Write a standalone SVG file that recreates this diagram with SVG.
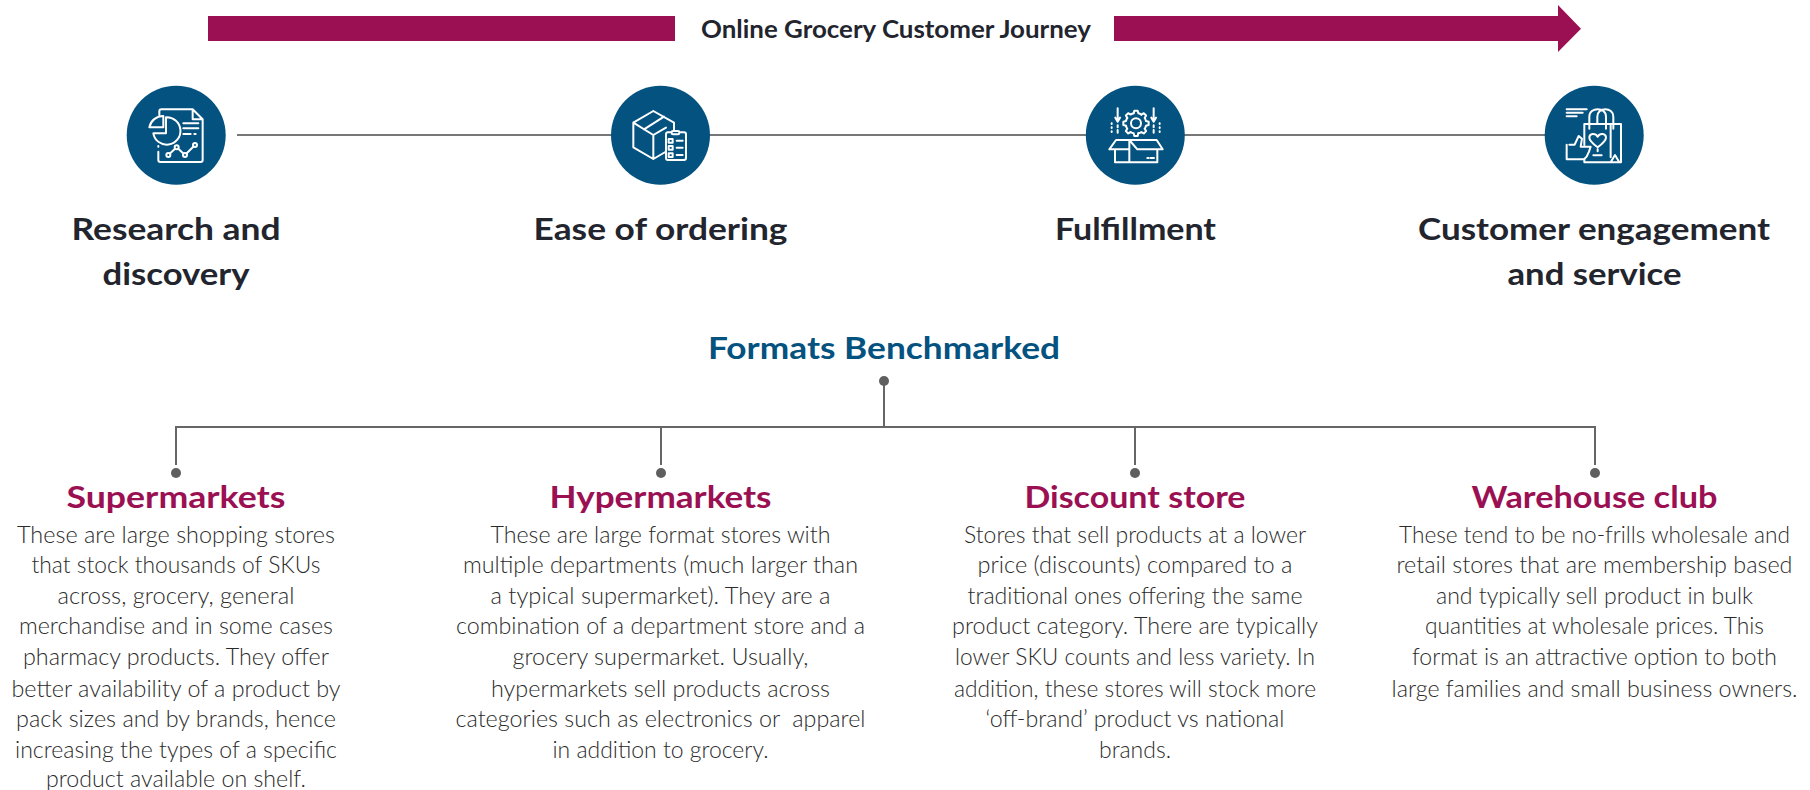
<svg xmlns="http://www.w3.org/2000/svg" xmlns:xlink="http://www.w3.org/1999/xlink" width="1810" height="790" viewBox="0 0 1810 790">
<style>
text{font-family:"Lato","Noto Sans",sans-serif;text-anchor:middle}
.h{font-size:31px;font-weight:700;fill:#22252e}
.b{font-size:23px;font-weight:300;fill:#2b2b2b;white-space:pre}
.c{font-size:31px;font-weight:700;fill:#9a1052}
.l{stroke:#666;stroke-width:2;fill:none}
.i{stroke:#fff;stroke-width:6;fill:none;stroke-linejoin:round;stroke-linecap:round}
.n{fill:#04527f}
.d{fill:#5f5f5f}
</style>
<defs>
<path id="tooth" d="M-7 -30L-5 -38H5L7 -30A31 31 0 0 1 16.3 -26.2"/>
</defs>
<rect width="1810" height="790" fill="#fff"/>
<g id="journey-arrow">
<rect x="208" y="16" width="467" height="25" fill="#9a1052"/>
<path d="M1114 16H1558V5L1581 28.7L1558 52V41H1114Z" fill="#9a1052"/>
<text x="896" y="38" textLength="390" lengthAdjust="spacingAndGlyphs" style="font-size:24px;font-weight:700;fill:#22252e">Online Grocery Customer Journey</text>
</g>
<g id="connectors">
<path d="M237 135H1546" stroke="#777" stroke-width="2.2" fill="none"/>
<path class="l" d="M884 381V427M176 465V427H1595V465M661 427V465M1135 427V465"/>
<circle class="d" cx="884" cy="381" r="5"/>
<circle class="d" cx="176" cy="473" r="5"/>
<circle class="d" cx="661" cy="473" r="5"/>
<circle class="d" cx="1135" cy="473" r="5"/>
<circle class="d" cx="1595" cy="473" r="5"/>
</g>
<g id="step-research">
<circle class="n" cx="176.2" cy="135.3" r="49.5"/>
<g class="i" transform="translate(100 70) scale(.3333)">
<path d="M178 135V124Q178 118 184 118H278L308 148V270Q308 276 302 276H181Q175 276 175 270V245M278 118V148H308"/>
<path d="M175 228V230"/>
<path d="M198 142A41 41 0 1 1 160 190H198Z"/>
<path d="M190 138V172H148A42 42 0 0 1 190 138Z"/>
<path d="M250 160H295M250 175H295M250 192H272M283 192H287"/>
<path d="M205 255L230 232L255 255L285 225"/>
<circle cx="205" cy="255" r="6" fill="#04527f"/><circle cx="230" cy="232" r="6" fill="#04527f"/><circle cx="255" cy="255" r="6" fill="#04527f"/><circle cx="285" cy="225" r="6" fill="#04527f"/>
</g>
</g>
<g id="step-ordering">
<circle class="n" cx="660.5" cy="135.3" r="49.5"/>
<g class="i" transform="translate(590 70) scale(.3333)">
<path d="M190 123L252 158V186M190 123L130 158V232L190 267L226 246M130 158L190 195V267M190 195L228 173M162 178L222 140"/>
<rect x="228" y="187" width="60" height="83" rx="6"/>
<rect x="245" y="183" width="23" height="10" rx="4" fill="#04527f"/>
<path d="M236 207H248V218H236ZM236 228H248V239H236ZM236 250H248V261H236ZM260 212H278M260 233H278M260 255H278"/>
</g>
</g>
<g id="step-fulfillment">
<circle class="n" cx="1135.3" cy="135.3" r="49.5"/>
<g class="i" transform="translate(1060 70) scale(.3333)">
<g transform="translate(228 160)">
<circle r="15"/>
<use xlink:href="#tooth"/><use xlink:href="#tooth" transform="rotate(45)"/><use xlink:href="#tooth" transform="rotate(90)"/><use xlink:href="#tooth" transform="rotate(135)"/><use xlink:href="#tooth" transform="rotate(180)"/><use xlink:href="#tooth" transform="rotate(225)"/><use xlink:href="#tooth" transform="rotate(270)"/><use xlink:href="#tooth" transform="rotate(315)"/>
</g>
<path d="M173 115V152M166 143L173 155L180 143M281 115V152M274 143L281 155L288 143"/>
<path d="M173 166V172M173 180V188M281 166V172M281 180V188M155 160V162M155 172V174M155 184V186M299 160V162M299 172V174M299 184V186"/>
<path d="M165 238V277H292V238M148 238L168 210H208V277M148 238H208M208 210H290L308 238H232L208 210"/>
<path d="M262 264H266M272 264H282"/>
</g>
</g>
<g id="step-engagement">
<circle class="n" cx="1594.2" cy="135.3" r="49.5"/>
<g class="i" transform="translate(1520 70) scale(.3333)">
<path d="M140 118H200M140 128H188M140 139H170"/>
<path d="M193 225V162H303V277H193V268M272 162V262M272 277L285 255L298 277"/>
<path d="M208 176V140C208 110 258 110 258 140V176M232 162V140C232 110 280 110 280 140V176"/>
<path d="M233 232C220 222 208 212 208 203C208 190 226 188 233 200C240 188 258 190 258 203C258 212 246 222 233 232ZM233 238V244M220 256H245"/>
<path d="M140 268V224M148 224H164L176 198L186 206L182 230H212L207 245L200 260L192 268H140"/>
</g>
</g>
<g id="label-research"><text class="h" x="176" y="240" textLength="209" lengthAdjust="spacingAndGlyphs">Research and</text><text class="h" x="176" y="285" textLength="147" lengthAdjust="spacingAndGlyphs">discovery</text></g>
<g id="label-ordering"><text class="h" x="660.5" y="240" textLength="254" lengthAdjust="spacingAndGlyphs">Ease of ordering</text></g>
<g id="label-fulfillment"><text class="h" x="1135.5" y="240" textLength="161" lengthAdjust="spacingAndGlyphs">Fulfillment</text></g>
<g id="label-engagement"><text class="h" x="1594" y="240" textLength="352" lengthAdjust="spacingAndGlyphs">Customer engagement</text><text class="h" x="1594.5" y="285" textLength="174" lengthAdjust="spacingAndGlyphs">and service</text></g>
<text id="formats-title" x="884" y="359" textLength="352" lengthAdjust="spacingAndGlyphs" style="font-size:31px;font-weight:700;fill:#04527f">Formats Benchmarked</text>
<g id="supermarkets">
<text class="c" x="176" y="508" textLength="219" lengthAdjust="spacingAndGlyphs">Supermarkets</text>
<text class="b" x="176" y="543" textLength="318" lengthAdjust="spacingAndGlyphs">These are large shopping stores</text>
<text class="b" x="176" y="573" textLength="289" lengthAdjust="spacingAndGlyphs">that stock thousands of SKUs</text>
<text class="b" x="176" y="604" textLength="237" lengthAdjust="spacingAndGlyphs">across, grocery, general</text>
<text class="b" x="176" y="634" textLength="314" lengthAdjust="spacingAndGlyphs">merchandise and in some cases</text>
<text class="b" x="176" y="665" textLength="306" lengthAdjust="spacingAndGlyphs">pharmacy products. They offer</text>
<text class="b" x="176" y="697" textLength="329" lengthAdjust="spacingAndGlyphs">better availability of a product by</text>
<text class="b" x="176" y="727" textLength="320" lengthAdjust="spacingAndGlyphs">pack sizes and by brands, hence</text>
<text class="b" x="176" y="758" textLength="322" lengthAdjust="spacingAndGlyphs">increasing the types of a specific</text>
<text class="b" x="176" y="787" textLength="260" lengthAdjust="spacingAndGlyphs">product available on shelf.</text>
</g>
<g id="hypermarkets">
<text class="c" x="660.5" y="508" textLength="222" lengthAdjust="spacingAndGlyphs">Hypermarkets</text>
<text class="b" x="660.5" y="543" textLength="340" lengthAdjust="spacingAndGlyphs">These are large format stores with</text>
<text class="b" x="660.5" y="573" textLength="395" lengthAdjust="spacingAndGlyphs">multiple departments (much larger than</text>
<text class="b" x="660.5" y="604" textLength="340" lengthAdjust="spacingAndGlyphs">a typical supermarket). They are a</text>
<text class="b" x="660.5" y="634" textLength="409" lengthAdjust="spacingAndGlyphs">combination of a department store and a</text>
<text class="b" x="660.5" y="665" textLength="296" lengthAdjust="spacingAndGlyphs">grocery supermarket. Usually,</text>
<text class="b" x="660.5" y="697" textLength="339" lengthAdjust="spacingAndGlyphs">hypermarkets sell products across</text>
<text class="b" x="660.5" y="727" textLength="410" lengthAdjust="spacingAndGlyphs">categories such as electronics or  apparel</text>
<text class="b" x="660.5" y="758" textLength="216" lengthAdjust="spacingAndGlyphs">in addition to grocery.</text>
</g>
<g id="discount">
<text class="c" x="1135" y="508" textLength="221" lengthAdjust="spacingAndGlyphs">Discount store</text>
<text class="b" x="1135" y="543" textLength="342" lengthAdjust="spacingAndGlyphs">Stores that sell products at a lower</text>
<text class="b" x="1135" y="573" textLength="315" lengthAdjust="spacingAndGlyphs">price (discounts) compared to a</text>
<text class="b" x="1135" y="604" textLength="335" lengthAdjust="spacingAndGlyphs">traditional ones offering the same</text>
<text class="b" x="1135" y="634" textLength="366" lengthAdjust="spacingAndGlyphs">product category. There are typically</text>
<text class="b" x="1135" y="665" textLength="360" lengthAdjust="spacingAndGlyphs">lower SKU counts and less variety. In</text>
<text class="b" x="1135" y="697" textLength="362" lengthAdjust="spacingAndGlyphs">addition, these stores will stock more</text>
<text class="b" x="1135" y="727" textLength="299" lengthAdjust="spacingAndGlyphs">‘off-brand’ product vs national</text>
<text class="b" x="1135" y="758" textLength="72" lengthAdjust="spacingAndGlyphs">brands.</text>
</g>
<g id="warehouse">
<text class="c" x="1594.5" y="508" textLength="246" lengthAdjust="spacingAndGlyphs">Warehouse club</text>
<text class="b" x="1594.5" y="543" textLength="391" lengthAdjust="spacingAndGlyphs">These tend to be no-frills wholesale and</text>
<text class="b" x="1594.5" y="573" textLength="396" lengthAdjust="spacingAndGlyphs">retail stores that are membership based</text>
<text class="b" x="1594.5" y="604" textLength="317" lengthAdjust="spacingAndGlyphs">and typically sell product in bulk</text>
<text class="b" x="1594.5" y="634" textLength="339" lengthAdjust="spacingAndGlyphs">quantities at wholesale prices. This</text>
<text class="b" x="1594.5" y="665" textLength="365" lengthAdjust="spacingAndGlyphs">format is an attractive option to both</text>
<text class="b" x="1594.5" y="697" textLength="406" lengthAdjust="spacingAndGlyphs">large families and small business owners.</text>
</g>
</svg>
